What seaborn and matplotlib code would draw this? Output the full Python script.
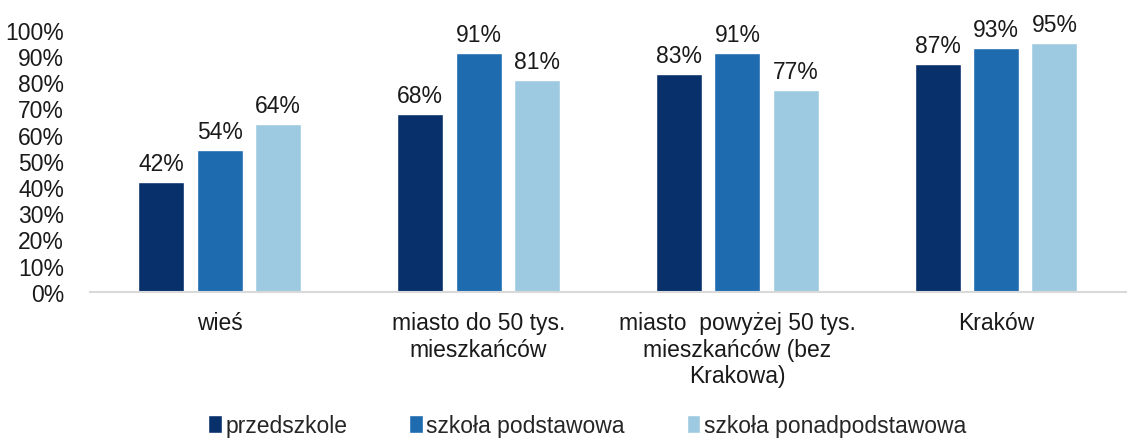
import matplotlib
matplotlib.use("Agg")
import matplotlib.pyplot as plt
import pandas as pd
import seaborn as sns
from matplotlib.ticker import FuncFormatter

# Data (percent)
categories = ["wieś", "miasto do 50 tys.\nmieszkańców",
              "miasto  powyżej 50 tys.\nmieszkańców (bez\nKrakowa)", "Kraków"]
series = ["przedszkole", "szkoła podstawowa", "szkoła ponadpodstawowa"]
przedszkole = [42, 68, 83, 87]
podstawowa = [54, 91, 91, 93]
ponadpodstawowa = [64, 81, 77, 95]
colors = ["#08306b", "#1f6bb0", "#9ecae1"]

df = pd.DataFrame({
    "kategoria": categories * 3,
    "szkola": [series[0]] * 4 + [series[1]] * 4 + [series[2]] * 4,
    "wartosc": przedszkole + podstawowa + ponadpodstawowa,
})

sns.set_style("white")
plt.rcParams["font.family"] = ["Liberation Sans", "DejaVu Sans"]
fs = 16.5

fig = plt.figure(figsize=(11.29, 4.39), dpi=100)
ax = fig.add_axes([0.08, 0.333, 0.917, 0.597])

sns.barplot(data=df, x="kategoria", y="wartosc", hue="szkola",
            palette=colors, saturation=1, width=0.675, gap=0.21, ax=ax, legend=True)

for cont in ax.containers:
    ax.bar_label(cont, fmt="%d%%", padding=5, fontsize=fs, color="#1a1a1a")

ax.set_ylim(0, 100)
ax.set_xlim(-0.5, 3.5)
ax.set_yticks(range(0, 101, 10))
ax.yaxis.set_major_formatter(FuncFormatter(lambda v, p: f"{v:.0f}%"))
ax.tick_params(axis="y", labelsize=fs, length=0, pad=19, labelcolor="#1a1a1a")
ax.tick_params(axis="x", labelsize=fs, length=0, pad=14, labelcolor="#1a1a1a")
for lab in ax.get_xticklabels():
    lab.set_linespacing(1.2)
ax.set_xlabel("")
ax.set_ylabel("")

for s in ["top", "right", "left"]:
    ax.spines[s].set_visible(False)
ax.spines["bottom"].set_color("#d9d9d9")
ax.spines["bottom"].set_linewidth(1.5)

ax.legend(loc="lower center", bbox_to_anchor=(0.52, -0.045), bbox_transform=fig.transFigure,
          ncol=3, frameon=False, fontsize=fs, handlelength=0.6, handleheight=0.8,
          handletextpad=0.15, columnspacing=2.7)

fig.savefig("out.png", dpi=100)
